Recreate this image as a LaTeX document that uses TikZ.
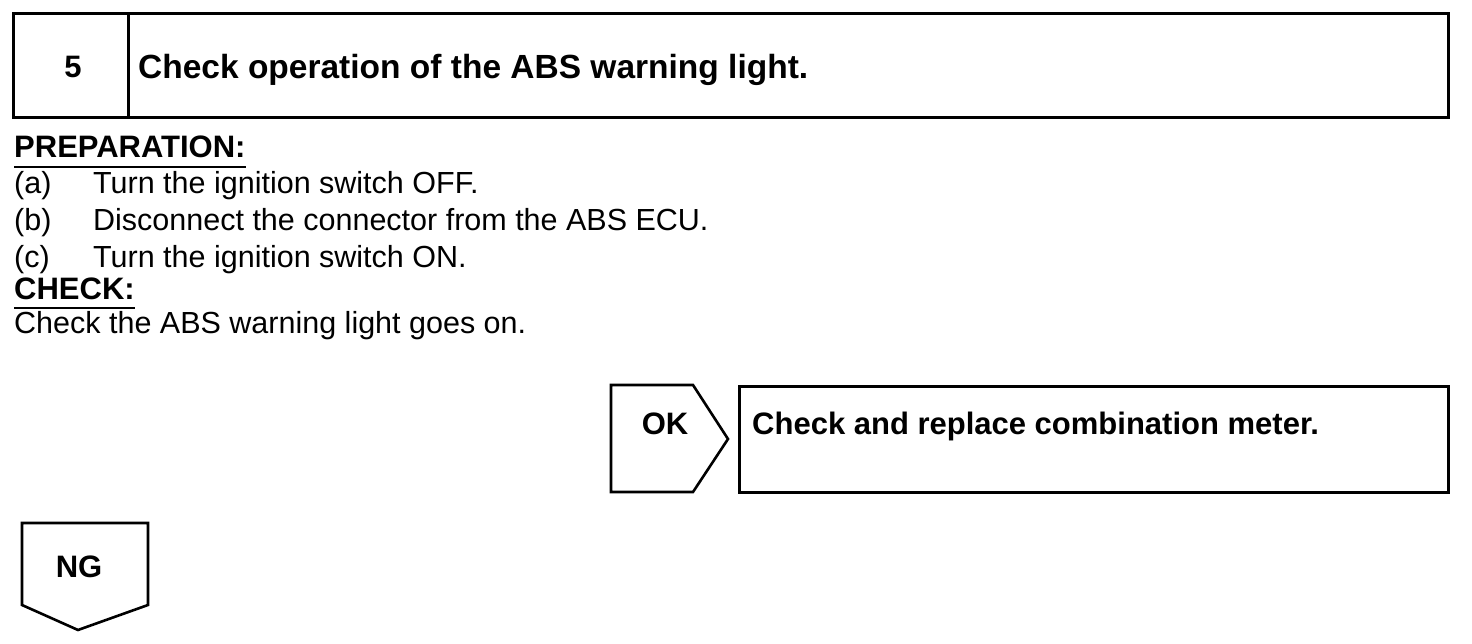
\documentclass[tikz,border=0pt]{standalone}
\usepackage{fontspec}
\setmainfont{Liberation Sans}
\begin{document}
\begin{tikzpicture}[x=1pt,y=-1pt,line join=miter]
\tikzset{
  frame/.style={draw, line width=3pt, inner sep=0pt, rectangle, anchor=north west},
  tagshape/.style={draw, line width=2.6pt},
  reg/.style={inner sep=0pt, font=\fontsize{30.5}{36}\selectfont},
  bld/.style={inner sep=0pt, font=\fontsize{31}{36}\selectfont\bfseries},
  ttl/.style={inner sep=0pt, font=\fontsize{33.5}{40}\selectfont\bfseries},
  uline/.style={line width=2pt}
}
\useasboundingbox (0,0) rectangle (1472,644);
% header
\node[frame, minimum width=115pt, minimum height=104pt] (numbox) at (12,12) {};
\node[frame, minimum width=1320pt, minimum height=104pt] (titlebox) at (127,12) {};
\node[bld, anchor=base] (num) at (73,78) {5};
\node[ttl, anchor=base west] (title) at (138,79) {Check operation of the ABS warning light.};
% preparation
\node[bld, anchor=base west] (prep) at (14,158) {PREPARATION:};
\draw[uline] (prep.south west |- 0,167) -- (prep.south east |- 0,167);
\node[reg, anchor=base west] (la) at (14,194) {(a)};
\node[reg, anchor=base west] (ta) at (93,194) {Turn the ignition switch OFF.};
\node[reg, anchor=base west] (lb) at (14,231) {(b)};
\node[reg, anchor=base west] (tb) at (93,231) {Disconnect the connector from the ABS ECU.};
\node[reg, anchor=base west] (lc) at (14,268) {(c)};
\node[reg, anchor=base west] (tc) at (93,268) {Turn the ignition switch ON.};
\node[bld, anchor=base west] (chk) at (14,300) {CHECK:};
\draw[uline] (chk.south west |- 0,308) -- (chk.south east |- 0,308);
\node[reg, anchor=base west] (chktxt) at (14,333) {Check the ABS warning light goes on.};
% OK branch
\draw[tagshape] (611,385) -- (693,385) -- (728,439) -- (693,492) -- (611,492) -- cycle;
\node[bld, anchor=base] (ok) at (665,434) {OK};
\node[frame, minimum width=709pt, minimum height=106pt] (okbox) at (738,385) {};
\node[bld, anchor=base west] (oktxt) at (752,434) {Check and replace combination meter.};
% NG branch
\draw[tagshape] (22,523) -- (148,523) -- (148,605) -- (78,630) -- (22,605) -- cycle;
\node[bld, anchor=base] (ng) at (79,577) {NG};
\end{tikzpicture}
\end{document}
